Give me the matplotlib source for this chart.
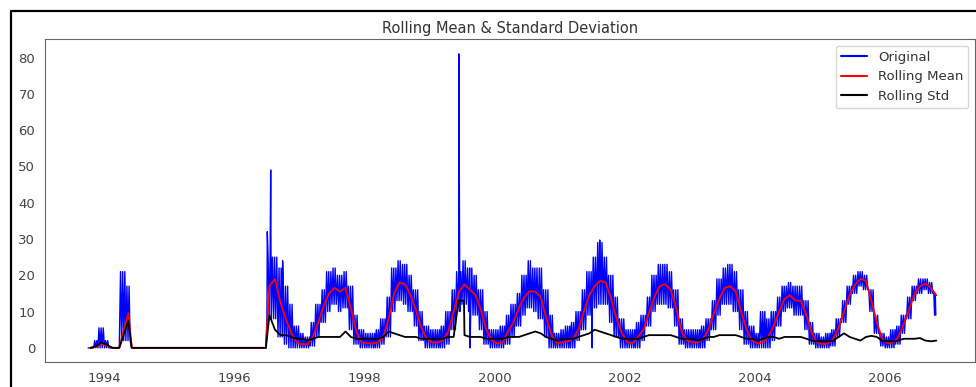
import matplotlib
matplotlib.use("Agg")
import matplotlib.pyplot as plt
import seaborn as sns
import pandas as pd
import numpy as np
from matplotlib.lines import Line2D

# ---- data (monthly, Oct 1993 .. Oct 2006) ----
start_month = "1993-10-01"
end_month = "2006-10-01"

roll_mean = (
    [0, 0.3, 1.2] +                                              # 1993 Oct-Dec
    [0.5, 0, 0, 4, 9.5, 0, 0, 0, 0, 0, 0, 0] +                   # 1994
    [0] * 12 +                                                   # 1995
    [0, 0, 0, 0, 0, 0, 17, 19, 12.5, 8, 4, 1.5] +                # 1996
    [1.0, 1.0, 3, 7, 11.5, 15, 16.5, 15.5, 16.5, 11, 4.5, 1.5] + # 1997
    [1.3, 1.2, 1.5, 3, 8, 15, 18, 17.5, 14.5, 10.5, 5.5, 2.5] +  # 1998
    [1.5, 1.5, 2, 4.5, 10, 15.5, 17.5, 16, 14.5, 10.5, 5, 2] +   # 1999
    [1.2, 1.5, 4.5, 7, 11, 14, 15.6, 15.5, 14, 8.5, 3.5, 1.2] +  # 2000
    [1.5, 1.8, 2.5, 5, 10, 14.5, 17, 18.5, 18, 13.5, 8, 4] +     # 2001
    [1.5, 1.3, 3, 5, 9.5, 14, 17, 17.5, 16, 11, 4.5, 2] +        # 2002
    [1.5, 1.5, 2.5, 5, 9.5, 13.5, 16.5, 17, 15.5, 10, 5, 2] +    # 2003
    [1.2, 1.5, 3, 6, 10, 13.5, 14.5, 13, 13, 9, 4, 1.5] +        # 2004
    [1, 1.2, 2.5, 5.5, 10, 14.5, 17.4, 19, 18.5, 13, 7, 2.5] +   # 2005
    [1.2, 1.5, 3, 6.5, 10.5, 15, 17, 17.7, 16.5, 14.5]           # 2006 Jan-Oct
)

roll_std = (
    [0, 0.5, 1.5] +
    [0.8, 0, 0, 3, 7.5, 0, 0, 0, 0, 0, 0, 0] +
    [0] * 12 +
    [0, 0, 0, 0, 0, 0, 9, 5, 3.5, 3.5, 3, 2.5] +
    [2.5, 2, 2.5, 3, 3, 3, 3, 3, 4.5, 3, 2.5, 2.5] +
    [2.5, 2.5, 2.5, 3, 4.5, 4, 3.5, 3, 3, 3, 2.5, 2.5] +
    [2.5, 2.5, 2.5, 3, 3, 13, 3.5, 3, 3, 3, 2.5, 2.5] +
    [2.5, 2.5, 3, 3, 3, 3.5, 4, 4.5, 4, 3, 2.5, 2] +
    [2.5, 2.5, 2.5, 3, 3.5, 4, 5, 4.5, 4, 3.5, 3, 2.5] +
    [2.5, 2.5, 2.5, 3, 3.5, 3.5, 3.5, 3.5, 3.5, 3, 2.5, 2.5] +
    [2.5, 2, 2.5, 3, 3, 3.5, 3.5, 3.5, 3.5, 3, 2.5, 2.5] +
    [2, 2.5, 3, 3, 2.5, 3, 3, 3, 3, 2.5, 2, 1.8] +
    [1.8, 1.8, 2, 3, 4, 3, 2.5, 2, 3, 3.3, 3, 2] +
    [1.8, 1.8, 2, 2.5, 2.5, 2.5, 2.7, 2, 1.8, 2]
)

orig_high = (
    [0, 2, 5.5] +
    [2, 0, 0, 21, 17, 0, 0, 0, 0, 0, 0, 0] +
    [0] * 12 +
    [0, 0, 0, 0, 0, 0, 26, 25, 22, 17, 12, 6] +
    [4, 3, 7, 12, 16, 21, 22, 20, 21, 17, 9, 5] +
    [4, 4, 5, 8, 14, 22, 24, 23, 20, 16, 10, 6] +
    [5, 5, 6, 10, 16, 21, 24, 22, 20, 16, 10, 5] +
    [5, 6, 9, 12, 15, 20, 24, 22, 22, 16, 9, 4] +
    [5, 6, 7, 10, 16, 21, 25, 29, 25, 20, 14, 8] +
    [5, 5, 7, 9, 14, 20, 23, 23, 21, 16, 8, 5] +
    [5, 5, 6, 8, 13, 19, 22, 23, 21, 16, 10, 6] +
    [4, 10, 8, 10, 14, 17, 18, 17, 17, 13, 7, 4] +
    [3, 4, 5, 8, 13, 17, 20, 21, 20, 16, 9, 4] +
    [3, 5, 6, 9, 14, 17, 19, 19, 18, 15]
)

orig_low = (
    [0, 0, 0] +
    [0, 0, 0, 2, 2, 0, 0, 0, 0, 0, 0, 0] +
    [0] * 12 +
    [0, 0, 0, 0, 0, 0, 8, 8, 3, 1, 0, 0] +
    [0, 0, 0.5, 3, 7, 10, 12, 10, 11, 5, 1, 0] +
    [0, 0, 0, 1, 3, 10, 13, 12, 10, 6, 2, 0] +
    [0, 0, 0, 1, 5, 10, 12, 10, 9, 5, 1, 0] +
    [0, 0, 1, 3, 6, 9, 11, 10, 8, 3, 0, 0] +
    [0, 0, 0, 2, 5, 9, 11, 12, 12, 7, 3, 0] +
    [0, 0, 0, 2, 6, 10, 12, 12, 11, 6, 1, 0] +
    [0, 0, 0, 2, 5, 9, 12, 12, 10, 5, 1, 0] +
    [0, 0, 0, 2, 6, 10, 11, 9, 9, 5, 1, 0] +
    [0, 0, 0.5, 3, 7, 12, 15, 17, 16, 10, 4, 0.5] +
    [0, 0, 1, 4, 8, 13, 15, 16, 15, 9]
)

# single-day spikes / dips of the original series
spike_dates = ["1996-07-03", "1996-07-22", "1996-09-27", "1999-06-13",
               "1999-08-15", "2001-07-01", "2001-08-12", "2006-10-12"]
spike_values = [32, 49, 24, 81, 0, 0, 29.7, 9]

# extra readings of the rolling statistics at sharp edges
edge_dates = ["1994-03-25", "1994-06-03", "1996-06-25"]
edge_mean = [0, 0, 0]
edge_std = [0, 0, 0]
std_extra_dates = ["1999-06-12", "1999-07-12"]
std_extra_values = [13, 13]

# ---- build series ----
months = pd.date_range(start_month, end_month, freq="MS")
mid = months + pd.Timedelta(days=14)

orig_idx, orig_val = [], []
last = len(months) - 1
k = 0
for i, m in enumerate(months):
    offs = [0, 6, 12, 18, 24] if i < last else [0, 4, 8]
    for d in offs:
        orig_idx.append(m + pd.Timedelta(days=d))
        orig_val.append(orig_high[i] if k % 2 == 0 else orig_low[i])
        k += 1
original = pd.concat([
    pd.Series(orig_val, index=orig_idx),
    pd.Series(spike_values, index=pd.to_datetime(spike_dates)),
]).sort_index()

mean_s = pd.concat([
    pd.Series(roll_mean, index=mid),
    pd.Series(edge_mean, index=pd.to_datetime(edge_dates)),
]).sort_index()
std_s = pd.concat([
    pd.Series(roll_std, index=mid),
    pd.Series(edge_std, index=pd.to_datetime(edge_dates)),
    pd.Series(std_extra_values, index=pd.to_datetime(std_extra_dates)),
]).sort_index()

# ---- plot ----
sns.set_style("white")
plt.rcParams["font.family"] = ["DejaVu Sans"]

fig = plt.figure(figsize=(9.76, 3.87), dpi=100)
ax = fig.add_axes([45 / 976, 25 / 387, 930 / 976, 323 / 387])

ax.plot(original.index, original.values, color="blue", lw=1.0, label="Original")
ax.plot(mean_s.index, mean_s.values, color="red", lw=1.3, label="Rolling Mean")
ax.plot(std_s.index, std_s.values, color="black", lw=1.3, label="Rolling Std")

ax.set_xlim(pd.Timestamp("1993-02-01"), pd.Timestamp("2007-05-20"))
ax.set_ylim(-3.9, 85.1)
ax.set_yticks(range(0, 81, 10))
ax.tick_params(labelsize=9.5, colors="#444444")
for s in ax.spines.values():
    s.set_color("#666666")
ax.set_title("Rolling Mean & Standard Deviation", fontsize=10.5, color="#333333", pad=4)
leg = ax.legend(loc="upper right", fontsize=9.5)
for t in leg.get_texts():
    t.set_color("#333333")
for h in leg.get_lines():
    h.set_linewidth(1.5)

# screenshot border lines
fig.add_artist(Line2D([11 / 976, 11 / 976], [0, 1 - 11 / 387], color="black", lw=1.6,
                      transform=fig.transFigure))
fig.add_artist(Line2D([11 / 976, 1], [1 - 11 / 387, 1 - 11 / 387], color="black", lw=1.6,
                      transform=fig.transFigure))

fig.savefig("out.png", dpi=100)
